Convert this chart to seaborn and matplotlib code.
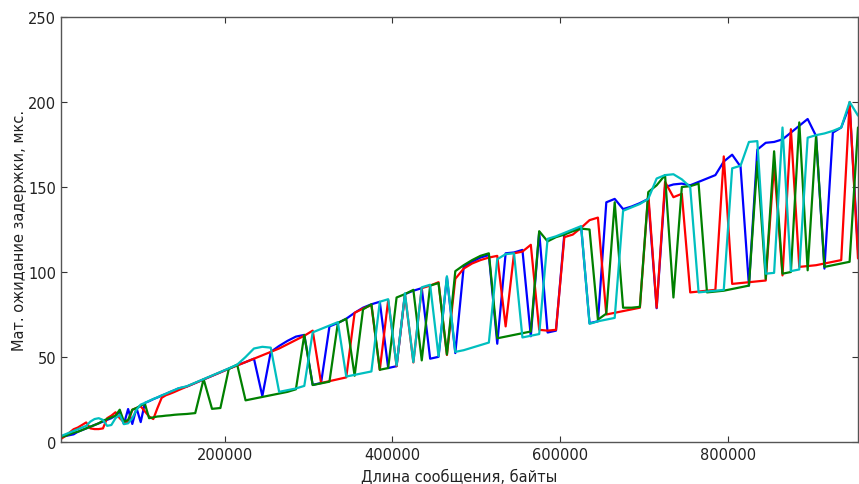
import matplotlib
matplotlib.use("Agg")
import matplotlib.pyplot as plt
import seaborn as sns
import pandas as pd

# message length, bytes (finer sampling at the start)
x_fine = [5000, 10000, 15000, 20000, 25000, 30000, 35000, 40000, 45000, 50000,
          55000, 60000, 65000, 70000, 75000, 80000, 85000, 90000, 95000, 100000,
          105000, 110000, 115000, 120000, 125000, 130000, 135000, 140000, 145000]
x_coarse = [155000, 165000, 175000, 185000, 195000, 205000, 215000, 225000, 235000, 245000,
            255000, 265000, 275000, 285000, 295000, 305000, 315000, 325000, 335000, 345000,
            355000, 365000, 375000, 385000, 395000, 405000, 415000, 425000, 435000, 445000,
            455000, 465000, 475000, 485000, 495000, 505000, 515000, 525000, 535000, 545000,
            555000, 565000, 575000, 585000, 595000, 605000, 615000, 625000, 635000, 645000,
            655000, 665000, 675000, 685000, 695000, 705000, 715000, 725000, 735000, 745000,
            755000, 765000, 775000, 785000, 795000, 805000, 815000, 825000, 835000, 845000,
            855000, 865000, 875000, 885000, 895000, 905000, 915000, 925000, 935000, 945000,
            955000]

blue_fine = [2.5, 3.5, 4.0, 4.5, 6.0, 7.0, 8.0, 9.0, 10.0, 11.0, 12.0, 13.0, 14.0, 15.5,
             18.0, 10.6, 19.4, 10.6, 20.0, 11.7, 23.0, 24.0, 25.2, 26.2, 27.3, 28.3, 29.4,
             30.4, 31.5]
blue_coarse = [32.6, 34.7, 36.8, 38.9, 41.0, 43.1, 45.2, 47.0, 49.0, 27.0,
               53.0, 56.5, 59.5, 62.0, 63.0, 33.6, 34.7, 68.0, 70.0, 72.5,
               76.0, 79.0, 81.0, 82.5, 43.5, 44.6, 87.0, 89.0, 90.5, 49.0,
               50.1, 97.0, 52.3, 103.0, 106.0, 108.5, 110.0, 57.8, 111.0, 111.5,
               113.0, 62.2, 123.5, 64.4, 65.5, 122.5, 124.5, 126.5, 69.9, 71.0,
               141.0, 143.0, 137.0, 138.5, 140.5, 143.0, 78.7, 150.0, 151.5, 152.0,
               151.0, 153.0, 155.0, 157.0, 165.0, 169.0, 162.0, 92.0, 172.0, 176.0,
               176.5, 178.0, 182.0, 186.0, 190.0, 180.0, 102.0, 182.0, 185.0, 198.0,
               113.0]

red_fine = [1.8, 3.5, 5.5, 7.5, 8.5, 10.0, 11.5, 8.0, 7.6, 7.6, 8.0, 14.0, 15.5, 17.5,
            14.0, 11.7, 11.7, 19.0, 20.0, 21.0, 18.0, 15.0, 13.5, 20.0, 26.0, 27.5, 28.4,
            29.4, 30.5]
red_coarse = [32.6, 34.7, 36.8, 38.9, 41.0, 43.1, 45.0, 47.0, 49.0, 51.0,
              53.0, 55.0, 57.5, 60.0, 62.5, 65.5, 34.7, 35.8, 36.9, 38.0,
              76.0, 78.5, 80.5, 42.4, 83.5, 44.6, 87.0, 46.8, 90.5, 92.0,
              94.0, 51.2, 96.0, 102.0, 105.0, 107.0, 108.5, 109.5, 68.0, 111.0,
              112.0, 116.0, 66.0, 65.5, 66.0, 120.5, 122.0, 126.0, 130.5, 132.0,
              75.0, 76.0, 77.0, 78.0, 79.0, 146.0, 79.0, 153.0, 144.0, 146.0,
              88.0, 88.5, 89.0, 89.5, 168.0, 93.0, 93.5, 94.0, 94.5, 95.0,
              163.0, 98.0, 184.0, 103.0, 103.5, 104.0, 105.0, 106.0, 107.0, 200.0,
              108.0]

green_fine = [3.0, 3.5, 4.5, 5.5, 6.0, 7.0, 8.0, 9.0, 10.0, 11.0, 12.5, 13.5, 14.5, 15.5,
              19.0, 12.0, 13.0, 19.0, 20.0, 21.5, 22.5, 14.0, 14.5, 15.0, 15.2, 15.5, 15.7,
              16.0, 16.2]
green_coarse = [16.5, 17.0, 37.0, 19.5, 20.0, 43.0, 45.5, 24.5, 25.5, 26.5,
                27.5, 28.5, 29.5, 31.0, 63.0, 33.5, 34.5, 35.5, 70.0, 72.5,
                39.0, 78.0, 81.0, 42.5, 43.5, 85.0, 87.0, 89.5, 48.0, 92.0,
                93.5, 51.5, 100.5, 104.0, 107.0, 109.5, 111.0, 61.0, 62.0, 63.0,
                64.0, 65.0, 124.0, 118.0, 120.5, 122.0, 124.0, 125.5, 125.0, 72.0,
                75.5, 141.0, 79.0, 79.0, 79.5, 147.0, 151.0, 157.0, 85.0, 150.0,
                150.5, 152.0, 88.0, 88.5, 89.0, 90.0, 91.0, 92.0, 165.0, 96.0,
                171.0, 99.0, 100.0, 188.0, 101.0, 180.0, 103.0, 104.0, 105.0, 106.0,
                185.0]

cyan_fine = [3.5, 4.5, 5.5, 6.5, 7.5, 8.5, 9.5, 12.0, 13.5, 14.0, 13.0, 9.5, 10.0, 14.0,
             16.0, 10.5, 11.0, 14.0, 19.0, 22.0, 23.0, 24.2, 25.3, 26.3, 27.4, 28.4, 29.5,
             30.5, 31.6]
cyan_coarse = [32.8, 34.9, 37.0, 39.1, 41.2, 43.3, 45.5, 50.0, 55.0, 56.0,
               55.5, 29.5, 30.5, 31.5, 33.0, 64.5, 66.5, 68.5, 70.5, 38.5,
               39.5, 40.5, 41.5, 82.5, 84.0, 45.0, 87.5, 47.0, 91.0, 92.5,
               50.5, 97.5, 53.0, 54.0, 55.5, 57.0, 58.5, 107.5, 110.5, 111.0,
               61.5, 62.5, 63.5, 119.5, 121.0, 123.0, 125.0, 127.0, 69.5, 71.0,
               72.0, 73.0, 136.0, 138.0, 140.0, 143.0, 155.0, 157.0, 157.5, 154.5,
               150.0, 88.0, 88.5, 89.0, 89.5, 161.0, 162.5, 176.5, 177.0, 99.0,
               99.5, 185.0, 100.5, 101.5, 179.0, 180.5, 181.5, 183.0, 185.0, 200.0,
               192.0]

series_names = ["s1", "s2", "s3", "s4"]
series_colors = {"s1": "#0000ff", "s2": "#ff0000", "s3": "#008000", "s4": "#00bfbf"}
y_ticks = [0, 50, 100, 150, 200, 250]
x_ticks = [200000, 400000, 600000, 800000]

sns.set_theme(style="white")
plt.rcParams["font.family"] = ["DejaVu Sans"]

xs = x_fine + x_coarse
values = {
    "s1": blue_fine + blue_coarse,
    "s2": red_fine + red_coarse,
    "s3": green_fine + green_coarse,
    "s4": cyan_fine + cyan_coarse,
}
frames = []
for name in series_names:
    frames.append(pd.DataFrame({"x": xs, "y": values[name], "series": name}))
df = pd.concat(frames, ignore_index=True)

fig = plt.figure(figsize=(8.59, 4.85), dpi=100)
ax = fig.add_axes([61 / 859, 42 / 485, 797 / 859, 425 / 485])
sns.lineplot(data=df, x="x", y="y", hue="series", palette=series_colors,
             hue_order=series_names, estimator=None, sort=False,
             linewidth=1.6, legend=False, ax=ax)

ax.set_xlim(min(xs), max(xs))
ax.set_ylim(0, 250)
ax.set_yticks(y_ticks)
ax.set_yticklabels([str(t) for t in y_ticks])
ax.set_xticks(x_ticks)
ax.set_xticklabels([str(t) for t in x_ticks])
ax.tick_params(direction="in", length=4, width=0.8, colors="#333333",
               labelsize=10.5, top=True, right=True, bottom=True, left=True,
               labelcolor="#222222")
for s in ax.spines.values():
    s.set_visible(True)
    s.set_color("#555555")
    s.set_linewidth(1.0)
ax.set_xlabel("Длина сообщения, байты", fontsize=10.5, color="#222222", labelpad=4)
ax.set_ylabel("Мат. ожидание задержки, мкс.", fontsize=10.5, color="#222222", labelpad=1)
ax.grid(False)
fig.savefig("out.png", dpi=100, facecolor="white")
